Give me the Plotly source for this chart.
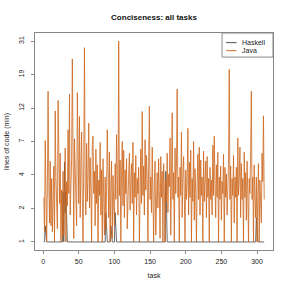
import plotly.graph_objects as go
import numpy as np

# lines of code (min) per task
java = [
    2.7, 1.3, 7.1, 2.2, 1.0, 3.3, 15.0, 3.6, 1.6, 5.1,
    1.5, 3.8, 1.3, 2.6, 4.7, 1.0, 11.2, 3.9, 2.1, 1.4,
    13.1, 4.4, 2.4, 5.8, 1.0, 3.1, 1.1, 4.3, 1.2, 2.8,
    6.3, 1.0, 3.6, 2.3, 8.4, 2.9, 14.4, 1.9, 4.2, 5.3,
    24.0, 2.7, 1.1, 7.3, 3.5, 2.0, 1.5, 14.7, 5.6, 2.4,
    10.3, 1.8, 4.6, 8.1, 2.6, 1.0, 5.2, 28.2, 3.2, 1.9,
    6.8, 2.5, 4.1, 9.3, 2.2, 5.4, 3.0, 1.0, 6.6, 7.6,
    2.9, 4.3, 1.5, 6.2, 2.4, 4.8, 1.0, 3.7, 2.8, 6.9,
    1.9, 4.4, 1.0, 5.3, 2.7, 1.2, 3.9, 1.4, 3.1, 8.4,
    4.2, 1.8, 5.9, 1.0, 3.3, 5.1, 1.1, 4.0, 2.3, 1.5,
    4.9, 2.6, 7.8, 3.4, 1.9, 31.0, 2.8, 5.2, 1.0, 4.3,
    7.0, 2.3, 6.1, 1.8, 4.4, 2.9, 5.3, 1.4, 3.2, 4.1,
    5.8, 2.1, 3.7, 4.9, 2.4, 6.9, 1.0, 4.2, 2.7, 5.6,
    1.9, 3.8, 2.9, 4.6, 1.0, 3.5, 6.2, 2.4, 11.1, 2.8,
    4.7, 1.9, 7.2, 3.1, 5.6, 3.8, 1.0, 4.8, 12.0, 2.6,
    3.9, 2.0, 6.4, 2.8, 1.0, 3.6, 5.1, 1.2, 2.9, 4.2,
    2.2, 5.3, 3.0, 1.1, 5.5, 2.7, 4.3, 1.0, 4.9, 3.2,
    1.0, 3.7, 2.5, 5.8, 2.0, 4.1, 3.3, 7.4, 1.2, 4.8,
    10.9, 2.6, 4.2, 1.0, 6.3, 2.9, 4.7, 15.5, 2.7, 3.9,
    1.0, 4.6, 2.8, 8.1, 1.8, 3.9, 5.5, 2.9, 1.0, 4.4,
    2.6, 3.6, 8.6, 1.9, 5.0, 2.7, 6.1, 1.0, 3.8, 2.5,
    7.0, 1.7, 4.5, 2.9, 1.0, 3.5, 5.7, 2.6, 6.4, 1.9,
    5.2, 2.8, 3.9, 1.0, 6.0, 2.5, 4.0, 5.1, 1.8, 5.5,
    2.7, 3.8, 1.0, 4.6, 2.6, 3.7, 1.9, 6.6, 2.8, 7.6,
    3.5, 1.8, 4.8, 2.7, 5.9, 1.0, 3.9, 2.6, 4.7, 1.7,
    3.6, 2.9, 5.7, 1.0, 4.6, 2.7, 4.1, 1.9, 3.1, 4.9,
    20.6, 2.6, 4.7, 1.0, 3.8, 2.8, 5.6, 1.6, 3.9, 2.7,
    4.6, 1.0, 7.4, 2.8, 3.7, 6.4, 1.8, 4.9, 2.6, 3.8,
    1.0, 5.9, 2.7, 4.2, 1.7, 5.1, 3.0, 1.0, 3.8, 2.9,
    5.8, 15.0, 2.6, 3.9, 1.0, 4.8, 2.7, 1.8, 3.9, 1.0,
    2.8, 4.9, 1.0, 3.7, 2.5, 1.6, 5.8, 3.6, 10.4, 2.6,
]

haskell = [
    1, 1, 1.5, 1, 1, 1, 1, 1, 1, 1,
    1, 1, 1, 1, 1, 1, 1, 1, 1, 1,
    1, 1, 1, 1, 1, 1, 1, 3, 1, 5,
    2, 3, 1, 1, 1, 1, 1, 1, 1, 1,
    1, 1, 1, 1, 1, 1, 1, 1, 1, 1,
    1, 1, 1, 1, 1, 1, 1, 1, 1, 1,
    1, 1, 1, 1, 1, 1, 1, 1, 1, 1,
    1, 1, 1, 1, 1, 1, 1, 1, 1, 1,
    1, 1, 1, 1, 1, 1, 1, 2, 1, 1,
    1, 1, 1, 1, 1.5, 1, 1, 1, 1, 1,
    2, 1, 1, 1, 1, 1, 1, 1, 1, 1,
    1, 1, 1, 1, 1, 1, 1, 1, 1, 1,
    1, 1, 1, 1, 1, 1, 1, 1, 1, 1,
    1, 1, 1, 1, 1, 1, 1, 1, 1, 1,
    1, 1, 1, 1, 1, 1, 1, 1, 1, 1,
    1, 1, 1, 1, 1, 1, 1, 1, 1, 1,
    1, 1, 1, 1, 1, 1, 1, 1, 1, 1,
    1, 4.3, 1, 1, 1, 1, 1, 1, 1, 1,
    1, 1, 1, 1, 1, 1, 1, 1, 1, 1,
    1, 1, 1, 1, 1, 1, 1, 1, 1, 1,
    1, 1, 1, 1, 1, 1, 1, 1, 1, 1,
    1, 1, 1, 1, 1, 1, 1, 1, 1, 1,
    1, 1, 1, 1, 1, 1, 1, 1, 1, 1,
    1, 1, 1, 1, 1, 1, 1, 1, 1, 1,
    1, 1, 1, 1, 1, 1, 1, 1, 1, 1,
    1, 1, 1, 1, 1, 1, 1, 1, 1, 1,
    1, 1, 1, 1, 1, 1, 1, 1, 1, 1,
    1, 1, 1, 1, 1, 1, 1, 1, 1, 1,
    1, 1, 1, 1, 1, 1, 1, 1, 1, 1,
    1, 1, 1, 1, 1, 1, 1, 1, 1.8, 1,
    1, 1, 1, 1, 1, 1, 1, 1, 1, 1,
]

series_names = ["Haskell", "Java"]
series_colors = ["rgba(80,80,80,0.85)", "rgba(205,102,29,0.8)"]
tasks = list(range(1, len(java) + 1))
y_tick_labels = ["1", "2", "4", "7", "12", "19", "31"]
x_tick_vals = [0, 50, 100, 150, 200, 250, 300]

# axis: log2(lines + 1), ticks evenly spaced in that scale
lo, hi = 1.0, 5.0
tickpos = [2 ** (lo + k * (hi - lo) / 6) for k in range(7)]
pad = 0.04 * (hi - lo)
yrange = [np.log10(2 ** (lo - pad)), np.log10(2 ** (hi + pad))]
n = len(tasks)
xpad = 0.04 * (n - 1)
xrange = [1 - xpad, n + xpad]

FONT = "Liberation Sans, Arial, sans-serif"
TXT = "#222222"

fig = go.Figure()
for name, vals, col in zip(series_names, [haskell, java], series_colors):
    fig.add_trace(go.Scatter(
        x=tasks, y=[v + 1 for v in vals], mode="lines", name=name,
        line=dict(color=col, width=1), showlegend=False, hoverinfo="skip",
    ))

# manual R-style legend box (top right, inside plot)
fig.add_shape(type="rect", xref="paper", yref="paper",
              x0=0.786, x1=1.0, y0=0.889, y1=1.0,
              line=dict(color="#888", width=1), fillcolor="white", layer="above")
for i, (name, col) in enumerate(zip(series_names, series_colors)):
    yy = 0.956 - i * 0.037
    fig.add_shape(type="line", xref="paper", yref="paper",
                  x0=0.803, x1=0.847, y0=yy, y1=yy,
                  line=dict(color=col, width=1.2), layer="above")
    fig.add_annotation(xref="paper", yref="paper", x=0.862, y=yy,
                       text=name, showarrow=False, xanchor="left",
                       yanchor="middle", font=dict(size=7, color=TXT))

fig.update_layout(
    width=291, height=291,
    margin=dict(l=35, r=18, t=33, b=41),
    paper_bgcolor="white", plot_bgcolor="white",
    font=dict(family=FONT, size=7, color=TXT),
    title=dict(text="<b>Conciseness: all tasks</b>", xref="paper", x=0.5,
               xanchor="center", yref="container", y=1 - 17 / 291,
               yanchor="middle", font=dict(size=8, color="#111")),
    showlegend=False,
    hovermode=False,
)
fig.update_xaxes(
    range=xrange, tickvals=x_tick_vals, ticks="outside", ticklen=3,
    tickcolor="#888", showgrid=False, zeroline=False,
    showline=True, linecolor="#888", linewidth=1, mirror=True,
    automargin=False, ticklabelstandoff=2,
    title=dict(text="task", font=dict(size=7, color=TXT), standoff=8),
    tickfont=dict(size=7, color=TXT),
)
fig.update_yaxes(
    type="log", range=yrange, tickvals=tickpos, ticktext=y_tick_labels,
    ticks="outside", ticklen=3, tickcolor="#888", tickangle=-90,
    showgrid=False, zeroline=False,
    showline=True, linecolor="#888", linewidth=1, mirror=True,
    automargin=False, ticklabelstandoff=4,
    title=dict(text="lines of code (min)", font=dict(size=7, color=TXT), standoff=7),
    tickfont=dict(size=7, color=TXT),
)

fig.write_html("out.html", config={"displayModeBar": False, "staticPlot": True},
               post_script="document.body.style.margin='0px';")
